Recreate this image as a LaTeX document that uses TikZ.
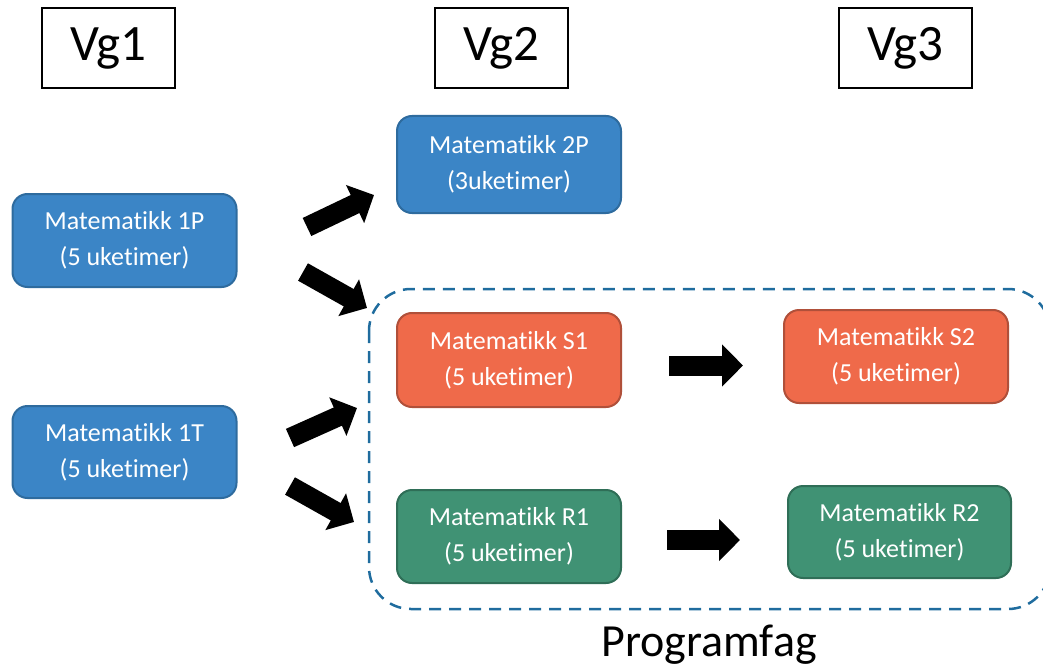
\documentclass[tikz,border=0pt]{standalone}
\usepackage{fontspec}
\setmainfont{Carlito}[Ligatures={NoCommon}]
\usetikzlibrary{arrows.meta}
\definecolor{bluefill}{RGB}{59,133,198}
\definecolor{blueline}{RGB}{46,107,158}
\definecolor{orfill}{RGB}{239,106,74}
\definecolor{orline}{RGB}{176,80,58}
\definecolor{grfill}{RGB}{64,146,116}
\definecolor{grline}{RGB}{47,110,87}
\definecolor{dashblue}{RGB}{31,108,158}
\tikzset{
  course/.style={rounded corners=15pt, line width=2pt, text=white, align=center,
    minimum width=224pt, minimum height=93pt, inner sep=0pt,
    font=\fontsize{26}{36}\selectfont},
  bluec/.style={course, fill=bluefill, draw=blueline},
  orc/.style={course, fill=orfill, draw=orline},
  grc/.style={course, fill=grfill, draw=grline},
  header/.style={draw=black, line width=1.5pt, fill=white, minimum width=133pt,
    minimum height=80pt, inner sep=0pt, font=\fontsize{51}{60}\selectfont},
  blockarrow/.style={line width=20pt, -{Triangle[length=21pt,width=41pt]}},
  groupbox/.style={draw=dashblue, line width=2.5pt, dash pattern=on 12pt off 8pt, rounded corners=42pt}
}
\begin{document}
\begin{tikzpicture}[x=1pt,y=-1pt]
\useasboundingbox (0,0) rectangle (1043,671);
\clip (0,0) rectangle (1043,671);
% headers
\node[header] (vg1) at (108.5,48) {Vg1};
\node[header] (vg2) at (501.5,48) {Vg2};
\node[header] (vg3) at (905.5,48) {Vg3};
% group box
\draw[groupbox] (369,289) rectangle (1050,609);
\node[font=\fontsize{46}{54}\selectfont] (prog) at (709,645) {Programfag};
% courses
\node[bluec] (m1P) at (124.5,240.5) {Matematikk 1P\\(5 uketimer)};
\node[bluec, minimum height=92pt] (m1T) at (124.5,452) {Matematikk 1T\\(5 uketimer)};
\node[bluec, minimum height=97pt] (m2P) at (509,164.5) {Matematikk 2P\\(3uketimer)};
\node[orc, minimum height=94pt] (mS1) at (509,360) {Matematikk S1\\(5 uketimer)};
\node[orc] (mS2) at (896,356.5) {Matematikk S2\\(5 uketimer)};
\node[grc] (mR1) at (509,536.5) {Matematikk R1\\(5 uketimer)};
\node[grc, minimum height=92pt, minimum width=223pt] (mR2) at (899.5,532) {Matematikk R2\\(5 uketimer)};
% arrow end points
\coordinate (a1s) at (307,227); \coordinate (a1e) at (374,195);
\coordinate (a2s) at (303,272); \coordinate (a2e) at (367,308);
\coordinate (a3s) at (290,438); \coordinate (a3e) at (357,408);
\coordinate (a4s) at (290,486); \coordinate (a4e) at (354,522);
\coordinate (a5s) at (669,365.5); \coordinate (a5e) at (743,365.5);
\coordinate (a6s) at (667,540); \coordinate (a6e) at (740,540);
\draw[blockarrow] (a1s) -- (a1e);
\draw[blockarrow] (a2s) -- (a2e);
\draw[blockarrow] (a3s) -- (a3e);
\draw[blockarrow] (a4s) -- (a4e);
\draw[blockarrow] (a5s) -- (a5e);
\draw[blockarrow] (a6s) -- (a6e);
\end{tikzpicture}
\end{document}
